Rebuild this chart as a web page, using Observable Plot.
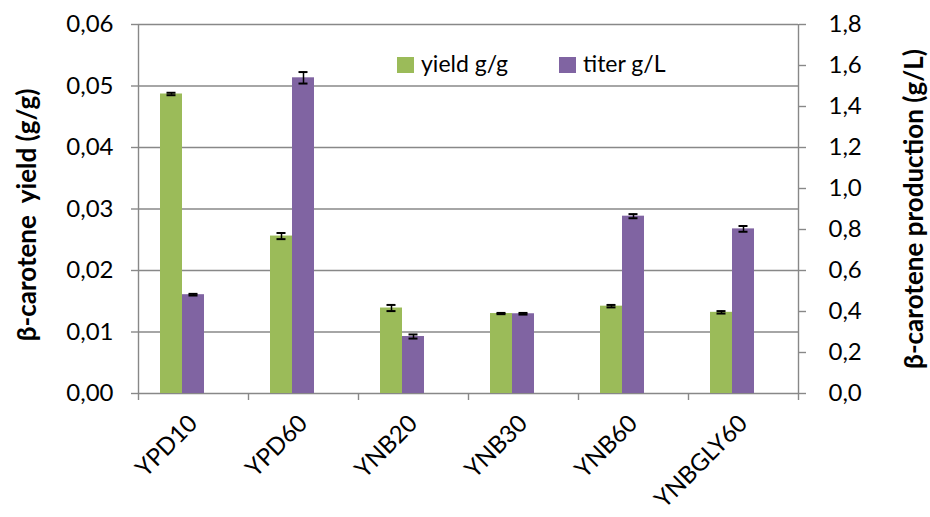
<!DOCTYPE html>
<html>
<head>
<meta charset="utf-8">
<script src="https://cdn.jsdelivr.net/npm/d3@7"></script>
<script src="https://cdn.jsdelivr.net/npm/@observablehq/plot@0.6"></script>
<style>
  body { margin: 0; background: #fff; }
  #wrap { position: relative; width: 930px; height: 517px; font-family: Lato, "Open Sans", sans-serif; }
  .lg { position: absolute; font-size: 23px; line-height: 23px; color: #000; white-space: nowrap; }
  .sw { position: absolute; width: 17px; height: 16px; }
</style>
</head>
<body>
<div id="wrap"></div>
<script>
// ---- data ----
const categories = ["YPD10", "YPD60", "YNB20", "YNB30", "YNB60", "YNBGLY60"];
const yieldValues = [0.0487, 0.0256, 0.0139, 0.0130, 0.0142, 0.0132];
const yieldErrors = [0.0002, 0.0005, 0.0005, 0.0001, 0.0002, 0.0002];
const titerValues = [0.482, 1.540, 0.278, 0.389, 0.865, 0.803];
const titerErrors = [0.004, 0.028, 0.010, 0.004, 0.010, 0.014];
const yieldTicks = [0, 0.01, 0.02, 0.03, 0.04, 0.05, 0.06];
const titerTicks = [0, 0.2, 0.4, 0.6, 0.8, 1.0, 1.2, 1.4, 1.6, 1.8];
const seriesNames = ["yield g/g", "titer g/L"];
const seriesColors = ["#9BBB59", "#8064A2"];
const yieldLabel = "β-carotene\u00A0 yield (g/g)";
const titerLabel = "β-carotene production (g/L)";

// ---- layout ----
const W = 930, H = 517, mL = 138, mR = 132, mT = 24, mB = 124;
const ratio = titerTicks[titerTicks.length - 1] / yieldTicks[yieldTicks.length - 1];
const step = (W - mL - mR) / categories.length;
const barW = step * 0.2;
const grey = "#888888";
const fmt = (d, n) => d.toFixed(n).replace(".", ",");

const rows = categories.map((c, i) => ({
  cat: c,
  yield: yieldValues[i], yErr: yieldErrors[i],
  titer: titerValues[i], tErr: titerErrors[i]
}));

const plot = Plot.plot({
  width: W, height: H,
  marginLeft: mL, marginRight: mR, marginTop: mT, marginBottom: mB,
  style: { fontFamily: "Lato, 'Open Sans', sans-serif", fontSize: "24px", color: "#000", background: "white", overflow: "visible" },
  x: { domain: categories, padding: 0, axis: null },
  y: { domain: [yieldTicks[0], yieldTicks[yieldTicks.length - 1]], axis: null },
  marks: [
    Plot.ruleY(yieldTicks, { stroke: grey, strokeWidth: 1.4 }),
    Plot.ruleX(categories.slice(0, 1), { x: d => d, dx: -step / 2, insetBottom: -7, stroke: grey, strokeWidth: 1.4 }),
    Plot.ruleX(categories.slice(-1), { x: d => d, dx: step / 2, insetBottom: -7, stroke: grey, strokeWidth: 1.4 }),
    Plot.ruleX(categories.slice(1), { x: d => d, y1: 0, y2: 0, dx: -step / 2, insetBottom: -7, stroke: grey, strokeWidth: 1.4 }),
    Plot.barY(rows, { x: "cat", y: "yield", fill: seriesColors[0], insetLeft: barW, insetRight: step - 2 * barW }),
    Plot.barY(rows, { x: "cat", y: d => d.titer / ratio, fill: seriesColors[1], insetLeft: 2 * barW, insetRight: step - 3 * barW }),
    // error bars yield
    Plot.ruleX(rows, { x: "cat", y1: d => d.yield - d.yErr, y2: d => d.yield + d.yErr, dx: -step / 2 + 1.5 * barW, stroke: "black", strokeWidth: 1.5 }),
    Plot.tickY(rows, { x: "cat", y: d => d.yield - d.yErr, insetLeft: 1.5 * barW - 4.5, insetRight: step - 1.5 * barW - 4.5, stroke: "black", strokeWidth: 2 }),
    Plot.tickY(rows, { x: "cat", y: d => d.yield + d.yErr, insetLeft: 1.5 * barW - 4.5, insetRight: step - 1.5 * barW - 4.5, stroke: "black", strokeWidth: 2 }),
    // error bars titer
    Plot.ruleX(rows, { x: "cat", y1: d => (d.titer - d.tErr) / ratio, y2: d => (d.titer + d.tErr) / ratio, dx: -step / 2 + 2.5 * barW, stroke: "black", strokeWidth: 1.5 }),
    Plot.tickY(rows, { x: "cat", y: d => (d.titer - d.tErr) / ratio, insetLeft: 2.5 * barW - 4.5, insetRight: step - 2.5 * barW - 4.5, stroke: "black", strokeWidth: 2 }),
    Plot.tickY(rows, { x: "cat", y: d => (d.titer + d.tErr) / ratio, insetLeft: 2.5 * barW - 4.5, insetRight: step - 2.5 * barW - 4.5, stroke: "black", strokeWidth: 2 }),
    // axes
    Plot.axisY({ anchor: "left", ticks: yieldTicks, tickSize: 7, tickPadding: 18, stroke: grey, strokeWidth: 1.4, tickFormat: d => fmt(d, 2), label: null }),
    Plot.axisY({ anchor: "right", ticks: titerTicks.map(t => t / ratio), tickSize: 7, tickPadding: 23, stroke: grey, strokeWidth: 1.4, tickFormat: d => fmt(d * ratio, 1), label: null }),
    Plot.axisX({ tickSize: 0, tickRotate: -45, tickPadding: 26, fontSize: 24, label: null }),
    Plot.text([yieldLabel], { frameAnchor: "left", dx: -111, dy: 6, rotate: -90, textAnchor: "middle", fontWeight: "bold", fontSize: 26 }),
    Plot.text([titerLabel], { frameAnchor: "right", dx: 116, dy: 0, rotate: -90, textAnchor: "middle", fontWeight: "bold", fontSize: 26 })
  ]
});

const wrap = document.getElementById("wrap");
wrap.appendChild(plot);

// legend
const legendPos = [{ sx: 397, tx: 421 }, { sx: 559, tx: 583 }];
seriesNames.forEach((name, i) => {
  const sw = document.createElement("div");
  sw.className = "sw";
  sw.style.left = legendPos[i].sx + "px";
  sw.style.top = "57px";
  sw.style.background = seriesColors[i];
  wrap.appendChild(sw);
  const t = document.createElement("div");
  t.className = "lg";
  t.style.left = legendPos[i].tx + "px";
  t.style.top = "52px";
  t.textContent = name;
  wrap.appendChild(t);
});
</script>
</body>
</html>
